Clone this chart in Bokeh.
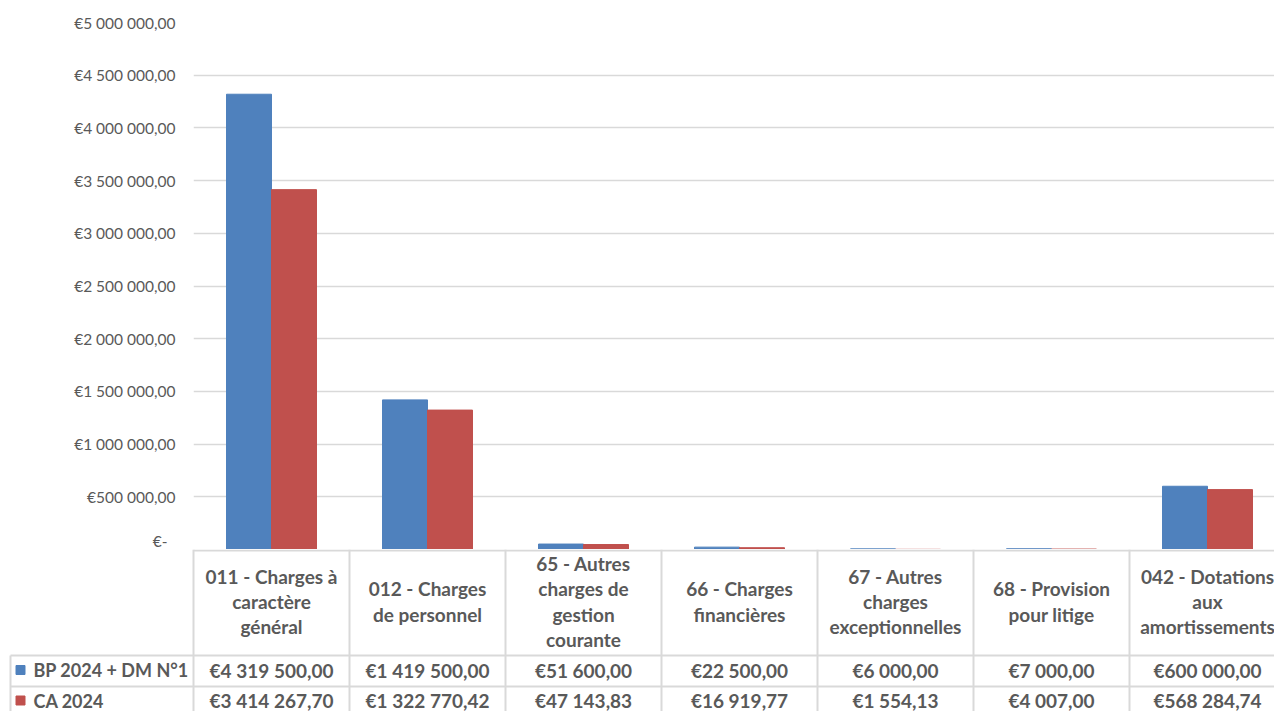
from bokeh.plotting import figure
from bokeh.models import Range1d, FixedTicker
from bokeh.core.properties import value
from bokeh.embed import file_html
from bokeh.resources import INLINE
import numpy as np

# ---------------- data ----------------
categories = [
    "011 - Charges à\ncaractère\ngénéral",
    "012 - Charges\nde personnel",
    "65 - Autres\ncharges de\ngestion\ncourante",
    "66 - Charges\nfinancières",
    "67 - Autres\ncharges\nexceptionnelles",
    "68 - Provision\npour litige",
    "042 - Dotations\naux\namortissements",
]
series_names = ["BP 2024 + DM N°1", "CA 2024"]
bp_values = [4319500.00, 1419500.00, 51600.00, 22500.00, 6000.00, 7000.00, 600000.00]
ca_values = [3414267.70, 1322770.42, 47143.83, 16919.77, 1554.13, 4007.00, 568284.74]
ytick_values = [0, 500000, 1000000, 1500000, 2000000, 2500000,
                3000000, 3500000, 4000000, 4500000, 5000000]
ytick_labels = ["€-\u00a0\u00a0", "€500 000,00", "€1 000 000,00", "€1 500 000,00",
                "€2 000 000,00", "€2 500 000,00", "€3 000 000,00", "€3 500 000,00",
                "€4 000 000,00", "€4 500 000,00", "€5 000 000,00"]

BLUE = "#4F81BD"
RED = "#C0504D"
GRID = "#D9D9D9"
TXT = "#595959"
FONT = "Lato"

def euro(v):
    s = f"{v:,.2f}"
    return "€" + s.replace(",", " ").replace(".", ",")

# ---------------- layout constants ----------------
W = 1274
LEFT = 193          # px left of the plot frame
UNIT = 156.0        # px per category
XMAX = (W - LEFT) / UNIT
XMIN_T = -LEFT / UNIT

n = len(categories)
idx = np.arange(n)
offset = 22.5 / UNIT
bar_w = 45 / UNIT

# ---------------- chart ----------------
p = figure(width=W, height=549, x_range=Range1d(0, XMAX), y_range=Range1d(0, 5000000),
           output_backend="svg", toolbar_location=None, x_axis_location=None,
           min_border_left=LEFT, min_border_right=0, min_border_top=22, min_border_bottom=0)
p.outline_line_color = None
p.background_fill_color = "white"
p.border_fill_color = "white"

p.vbar(x=idx + 0.5 - offset, top=bp_values, width=bar_w, bottom=0,
       fill_color=BLUE, line_color=BLUE)
p.vbar(x=idx + 0.5 + offset, top=ca_values, width=bar_w, bottom=0,
       fill_color=RED, line_color=RED)

ya = p.yaxis[0]
ya.ticker = FixedTicker(ticks=ytick_values)
ya.major_label_overrides = {v: l for v, l in zip(ytick_values, ytick_labels)}
ya.axis_line_color = None
ya.major_tick_line_color = None
ya.minor_tick_line_color = None
ya.major_tick_out = 0
ya.major_tick_in = 0
ya.major_label_standoff = 18
ya.major_label_text_font = FONT
ya.major_label_text_font_size = "15.5px"
ya.major_label_text_color = TXT
p.ygrid.ticker = FixedTicker(ticks=ytick_values)
p.ygrid.grid_line_color = GRID
p.ygrid.grid_line_width = 1.5
p.xgrid.grid_line_color = None

# ---------------- data table ----------------
HEAD = 106
ROW = 31
TH = 162
t = figure(width=W, height=TH, x_range=Range1d(XMIN_T, XMAX), y_range=Range1d(TH, 0),
           output_backend="svg", toolbar_location=None,
           x_axis_location=None, y_axis_location=None,
           min_border_left=0, min_border_right=0, min_border_top=0, min_border_bottom=0)
t.outline_line_color = None
t.xgrid.grid_line_color = None
t.ygrid.grid_line_color = None

leg_left = (10 - LEFT) / UNIT
# horizontal lines
t.segment(x0=[0, leg_left, leg_left], x1=[XMAX, XMAX, XMAX],
          y0=[1, HEAD, HEAD + ROW], y1=[1, HEAD, HEAD + ROW],
          line_color=GRID, line_width=2)
# vertical lines
vx = list(range(0, n + 1))
t.segment(x0=vx, x1=vx, y0=[0] * len(vx), y1=[TH] * len(vx), line_color=GRID, line_width=2)
t.segment(x0=[leg_left], x1=[leg_left], y0=[HEAD], y1=[TH], line_color=GRID, line_width=2)

# header
t.text(x=idx + 0.5, y=[HEAD / 2 - 1] * n, text=categories, text_align="center",
       text_baseline="middle", text_font=value(FONT), text_font_style="bold",
       text_font_size="19px", text_color=TXT, text_line_height=1.09)

# values
row_y = [HEAD + ROW / 2 - 1, HEAD + ROW + 14]
for vals, yy in zip([bp_values, ca_values], row_y):
    t.text(x=idx + 0.5, y=[yy] * n, text=[euro(v) for v in vals], text_align="center",
           text_baseline="middle", text_font=value(FONT), text_font_style="bold",
           text_font_size="19px", text_color=TXT)

# legend column
t.scatter(x=[(20 - LEFT) / UNIT] * 2, y=row_y, marker="square", size=9,
          fill_color=[BLUE, RED], line_color=[BLUE, RED])
t.text(x=[(33 - LEFT) / UNIT] * 2, y=row_y, text=series_names, text_align="left",
       text_baseline="middle", text_font=value(FONT), text_font_style="bold",
       text_font_size="18px", text_color=TXT)

open("out.html", "w").write(file_html([p, t], INLINE))
